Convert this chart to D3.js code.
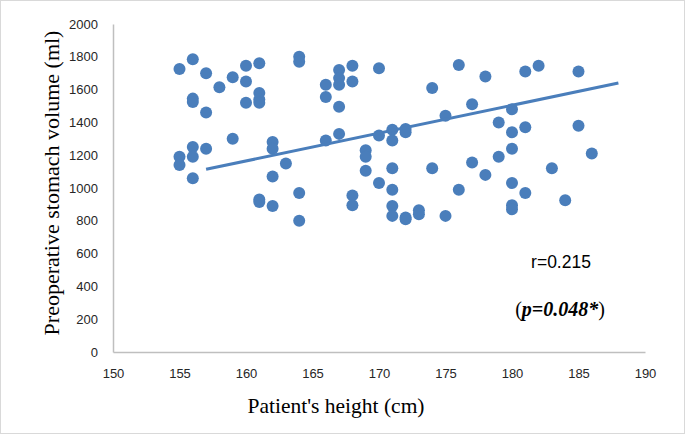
<!DOCTYPE html>
<html><head><meta charset="utf-8">
<script src="https://cdn.jsdelivr.net/npm/d3@7/dist/d3.min.js"></script>
<style>html,body{margin:0;padding:0;background:#fff;}svg{display:block;}</style>
</head><body>
<svg id="chart" width="685" height="434"></svg>
<script>
const heights = [155,155,155,156,156,156,156,156,156,157,157,157,158,159,159,160,160,160,
161,161,161,161,161,161,162,162,162,162,163,164,164,164,164,166,166,166,
167,167,167,167,167,168,168,168,168,169,169,169,170,170,170,
171,171,171,171,171,171,172,172,172,172,173,173,174,174,175,175,176,176,
177,177,178,178,179,179,180,180,180,180,180,180,181,181,181,182,183,184,185,185,186];
const volumes = [1725,1190,1140,1785,1545,1525,1250,1190,1060,1700,1460,1240,1615,1675,1300,1745,1650,1520,
1760,1580,1540,1520,930,915,1280,1240,1070,890,1150,1800,1770,970,800,1630,1555,1290,
1720,1670,1630,1495,1330,1745,1650,955,895,1230,1190,1105,1730,1320,1030,
1355,1290,1120,990,890,830,1360,1340,820,810,865,840,1610,1120,1440,830,1750,990,
1510,1155,1680,1080,1400,1190,1480,1340,1240,1030,895,870,1710,1370,970,1745,1120,925,1710,1380,1210];
const trendX = [157, 188];
const trendY = [1114, 1640];
const xTicks = [150,155,160,165,170,175,180,185,190];
const yTicks = [0,200,400,600,800,1000,1200,1400,1600,1800,2000];

const svg = d3.select("#chart");
const x = d3.scaleLinear().domain([150,190]).range([113,645]);
const y = d3.scaleLinear().domain([0,2000]).range([352,24]);
const blue = "#4A7EBB";

svg.append("rect").attr("x",0.5).attr("y",0.5).attr("width",684).attr("height",433)
  .attr("fill","#fff").attr("stroke","#d9d9d9");

const gx = svg.append("g").attr("transform","translate(0,352)")
  .call(d3.axisBottom(x).tickValues(xTicks).tickSize(0).tickPadding(17).tickFormat(d3.format("d")));
gx.select(".domain").attr("stroke","#bfbfbf").attr("stroke-width",1.5);
gx.selectAll("text").attr("font-family","'Liberation Sans', Arial, sans-serif").attr("font-size",13).attr("fill","#262626");

const gy = svg.append("g").attr("transform","translate(113,0)")
  .call(d3.axisLeft(y).tickValues(yTicks).tickSize(0).tickPadding(15).tickFormat(d3.format("d")));
gy.select(".domain").attr("stroke","#bfbfbf").attr("stroke-width",1.5);
gy.selectAll("text").attr("font-family","'Liberation Sans', Arial, sans-serif").attr("font-size",13).attr("fill","#262626");

svg.append("g").selectAll("circle").data(heights.map((h,i)=>[h,volumes[i]])).join("circle")
  .attr("cx",d=>x(d[0])).attr("cy",d=>y(d[1])).attr("r",6).attr("fill",blue);

svg.append("line").attr("x1",x(trendX[0])).attr("y1",y(trendY[0]))
  .attr("x2",x(trendX[1])).attr("y2",y(trendY[1]))
  .attr("stroke",blue).attr("stroke-width",3);

svg.append("text").attr("x",561).attr("y",268).attr("text-anchor","middle")
  .attr("font-family","'Liberation Sans', Arial, sans-serif").attr("font-size",17.5).attr("fill","#000")
  .text("r=0.215");

const pt = svg.append("text").attr("x",560).attr("y",316).attr("text-anchor","middle")
  .attr("font-family","'Liberation Serif','Times New Roman',serif").attr("font-size",20).attr("fill","#000");
pt.append("tspan").text("(");
pt.append("tspan").attr("font-weight","bold").attr("font-style","italic").text("p=0.048*");
pt.append("tspan").text(")");

svg.append("text").attr("x",336).attr("y",413).attr("text-anchor","middle")
  .attr("font-family","'Liberation Serif','Times New Roman',serif").attr("font-size",21.5).attr("fill","#000")
  .text("Patient's height (cm)");

svg.append("text").attr("transform","translate(59,183) rotate(-90)").attr("text-anchor","middle")
  .attr("font-family","'Liberation Serif','Times New Roman',serif").attr("font-size",22).attr("fill","#000")
  .text("Preoperative stomach volume (ml)");
</script>
</body></html>
